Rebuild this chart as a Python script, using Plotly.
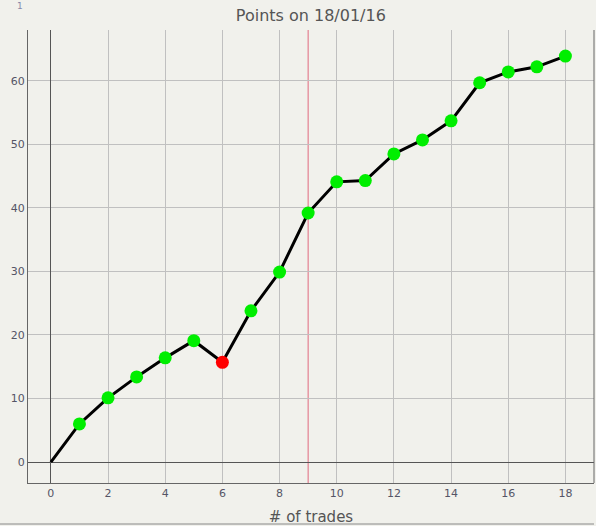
import plotly.graph_objects as go

trades = list(range(0, 19))
points = [0, 6.0, 10.1, 13.4, 16.4, 19.1, 15.7, 23.8, 29.9, 39.2, 44.1, 44.3, 48.5, 50.7, 53.7, 59.7, 61.4, 62.2, 63.9]
marker_colors = ["rgba(0,0,0,0)"] + ["#00ee00"] * 5 + ["#ff0000"] + ["#00ee00"] * 12
marker_vline = 9
x_ticks = list(range(0, 19, 2))
y_ticks = list(range(0, 70, 10))

fig = go.Figure()
fig.add_trace(go.Scatter(
    x=trades, y=points, mode="lines+markers",
    line=dict(color="black", width=3),
    marker=dict(size=13, color=marker_colors, line=dict(width=0)),
    hoverinfo="x+y", showlegend=False,
))

fig.add_shape(type="line", xref="x", yref="paper", x0=marker_vline, x1=marker_vline, y0=0, y1=1,
              line=dict(color="#e06a7e", width=1), layer="below")
# bottom frame line of the figure
fig.add_shape(type="line", xref="paper", yref="paper", x0=-28/566, x1=1.0, y0=-41/453, y1=-41/453,
              line=dict(color="#888888", width=1))
# right frame line of the plot area
fig.add_shape(type="line", xref="paper", yref="paper", x0=1, x1=1, y0=0, y1=1,
              line=dict(color="#666666", width=1))

fig.add_annotation(text="1", xref="paper", yref="paper", x=-8/566, y=1 + 24/453,
                   showarrow=False, font=dict(family="DejaVu Sans", size=9, color="#8888aa"),
                   xanchor="center", yanchor="middle")

fig.update_layout(
    width=596, height=526,
    margin=dict(l=28, r=2, t=30, b=43, autoexpand=False),
    paper_bgcolor="#f1f1ec", plot_bgcolor="#f1f1ec",
    title=dict(text="Points on 18/01/16", x=0.5216, xanchor="center", y=1 - 15/526, yanchor="middle",
               font=dict(family="DejaVu Sans", size=16, color="#555555"), automargin=False),
    font=dict(family="DejaVu Sans", size=11, color="#555566"),
    xaxis=dict(range=[-0.8, 19], tickvals=x_ticks, showgrid=True, gridcolor="#c0c0c0",
               zeroline=True, zerolinecolor="#555555", zerolinewidth=1, automargin=False,
               showline=True, linecolor="#666666", linewidth=1, ticks="", ticklen=0,
               title=dict(text="# of trades", font=dict(size=15, color="#555555"), standoff=12)),
    yaxis=dict(range=[-3.3, 68], tickvals=y_ticks, showgrid=True, gridcolor="#c0c0c0",
               zeroline=True, zerolinecolor="#555555", zerolinewidth=1, automargin=False,
               showline=True, linecolor="#666666", linewidth=1, ticks=""),
)

fig.write_html("out.html", config={"displayModeBar": False},
               post_script="document.body.style.margin='0';document.body.style.background='#f1f1ec';")
